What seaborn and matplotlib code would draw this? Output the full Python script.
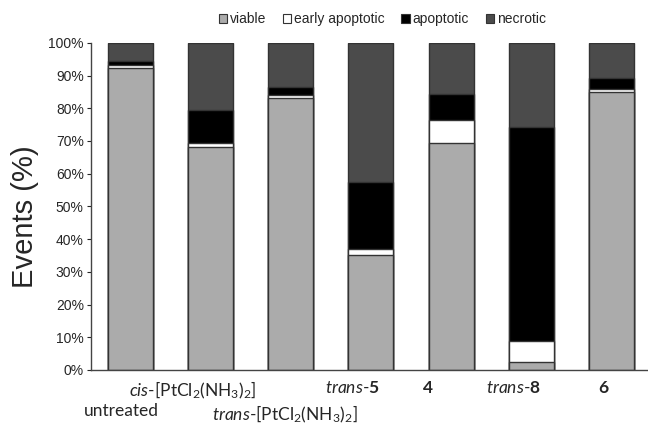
import numpy as np
import pandas as pd
import matplotlib
matplotlib.use("Agg")
import matplotlib.pyplot as plt
import matplotlib.transforms as mtrans
import seaborn as sns
from matplotlib.patches import Patch

# data (percent of events)
categories = ["untreated", "cis-Pt", "trans-Pt", "trans-5", "4", "trans-8", "6"]
tick_labels = [
    "untreated",
    r"$\it{cis}$-[PtCl$_2$(NH$_3$)$_2$]",
    r"$\it{trans}$-[PtCl$_2$(NH$_3$)$_2$]",
    r"$\it{trans}$-$\bf{5}$",
    r"$\bf{4}$",
    r"$\it{trans}$-$\bf{8}$",
    r"$\bf{6}$",
]
viable = [92.3, 68.3, 83.1, 35.2, 69.3, 2.3, 85.1]
early_apoptotic = [1.0, 1.0, 1.0, 1.8, 7.0, 6.7, 0.8]
apoptotic = [1.0, 10.2, 2.4, 20.5, 8.0, 65.4, 3.3]
necrotic = [5.7, 20.5, 13.5, 42.5, 15.7, 25.6, 10.8]

series = ["viable", "early apoptotic", "apoptotic", "necrotic"]
colors = {"viable": "#ababab", "early apoptotic": "#ffffff",
          "apoptotic": "#000000", "necrotic": "#4b4b4b"}

sns.set_style("white")
plt.rcParams["font.family"] = ["Liberation Sans", "DejaVu Sans"]
plt.rcParams["mathtext.fontset"] = "custom"
plt.rcParams["mathtext.rm"] = "Lato"
plt.rcParams["mathtext.it"] = "Lato:italic"
plt.rcParams["mathtext.bf"] = "Lato:bold"

df = pd.DataFrame({"category": categories, "viable": viable,
                   "early apoptotic": early_apoptotic,
                   "apoptotic": apoptotic, "necrotic": necrotic})
cum = df[series].cumsum(axis=1)

fig = plt.figure(figsize=(6.48, 4.26), dpi=100)
ax = fig.add_axes([0.140, 0.1315, 0.862, 0.768])

# draw from the top of the stack down so lower segments overlay
for s in reversed(series):
    sns.barplot(x=df["category"], y=cum[s], color=colors[s], width=0.56,
                edgecolor="#333333", linewidth=1.0, saturation=1, ax=ax)

ax.set_ylim(0, 100)
ax.set_xlim(-0.49, 6.47)
ax.set_yticks(np.arange(0, 101, 10))
ax.set_yticklabels([f"{v}%" for v in range(0, 101, 10)], fontsize=10)
ax.set_xticks(range(len(categories)))
ax.set_xticklabels(tick_labels, fontsize=12.5, family="Lato")
ax.tick_params(axis="x", length=0, pad=7)
ax.tick_params(axis="y", length=3, width=0.8, direction="out", left=True, pad=2)
for i in (0, 2):
    ax.xaxis.get_major_ticks()[i].set_pad(24)

# labels in the original sit a little left of their bars
shifts_px = [-9, -18, -6, -18, -23, -18, -8]
for lab, dx in zip(ax.get_xticklabels(), shifts_px):
    lab.set_transform(lab.get_transform() +
                      mtrans.ScaledTranslation(dx / 100, 0, fig.dpi_scale_trans))

ax.set_xlabel("")
ax.set_ylabel("Events (%)", fontsize=21)
ax.yaxis.set_label_coords(-0.092, 0.468)
sns.despine(ax=ax, top=True, right=True)
for sp in ("left", "bottom"):
    ax.spines[sp].set_color("#444444")
    ax.spines[sp].set_linewidth(1.0)

handles = [Patch(facecolor=colors[s], edgecolor="#333333", linewidth=0.8, label=s)
           for s in series]
fig.legend(handles=handles, loc="center", bbox_to_anchor=(0.59, 0.955), ncol=4,
           frameon=False, fontsize=10, handlelength=0.6, handleheight=0.6,
           handletextpad=0.2, columnspacing=1.2)

fig.savefig("out.png", dpi=100)
